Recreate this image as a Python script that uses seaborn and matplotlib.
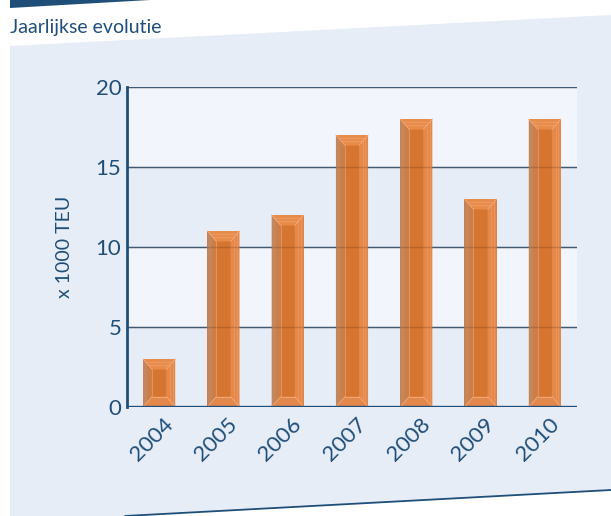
import numpy as np
import pandas as pd
import matplotlib
matplotlib.use("Agg")
import matplotlib.pyplot as plt
import matplotlib.transforms as mtransforms
from matplotlib.patches import Polygon
import seaborn as sns

years = ["2004", "2005", "2006", "2007", "2008", "2009", "2010"]
teu = [3, 11, 12, 17, 18, 13, 18]
yticks = [0, 5, 10, 15, 20]
title = "Jaarlijkse evolutie"
ylabel = "x 1000 TEU"

sns.set_theme(style="white")
plt.rcParams['font.family'] = ['Lato', 'DejaVu Sans']

DARK = "#1f4e79"
PANEL = "#e6edf7"
LIGHT = "#f2f5fb"
W, H = 611, 516
fig = plt.figure(figsize=(W / 100, H / 100), dpi=100)
fig.patch.set_facecolor("white")

def fx(x):
    return x / W
def fy(y):
    return 1 - y / H

# top dark band
fig.patches.append(Polygon([(fx(10), fy(0)), (fx(150), fy(0)), (fx(10), fy(8))],
                           closed=True, transform=fig.transFigure, facecolor=DARK,
                           edgecolor="none", zorder=-2))
# light blue panel
fig.patches.append(Polygon([(fx(10), fy(46)), (fx(611), fy(15)), (fx(611), fy(490)),
                            (fx(125), fy(516)), (fx(10), fy(516))], closed=True,
                           transform=fig.transFigure, facecolor=PANEL, edgecolor="none",
                           zorder=-2))
fig.lines.append(plt.Line2D([fx(125), fx(611)], [fy(516), fy(490)], transform=fig.transFigure,
                            color=DARK, lw=1.3, zorder=-1))
fig.text(fx(10), fy(33), title, color=DARK, fontsize=14, ha="left", va="baseline")

ax = fig.add_axes([fx(127), fy(407), fx(577) - fx(127), fy(87) - fy(407)])
ax.set_zorder(1)
ax.set_facecolor("none")

df = pd.DataFrame({"year": years, "teu": teu})
sns.barplot(data=df, x="year", y="teu", color="#d67530", width=0.5, saturation=1,
            edgecolor="none", ax=ax, zorder=3)
bars = list(ax.patches)

ax.set_ylim(0, 20)
ax.set_xlim(-0.5, len(years) - 0.5)

# alternating bands
for i in range(len(yticks) - 1):
    if i % 2 == 1:
        ax.axhspan(yticks[i], yticks[i + 1], color=LIGHT, lw=0, zorder=0)

# bevel decoration derived from bars
for p in bars:
    x0, y0 = p.get_x(), p.get_y()
    w, h = p.get_width(), p.get_height()
    if h <= 0:
        continue
    bw = w * 0.28
    bh = min(0.65, h * 0.22)
    x1 = x0 + w
    y1 = y0 + h
    # left side (darker tan)
    ax.add_patch(Polygon([(x0, y0), (x0 + bw, y0 + bh), (x0 + bw, y1 - bh), (x0, y1)],
                         facecolor="#c4875c", edgecolor="none", zorder=4))
    ax.add_patch(Polygon([(x0 + bw * 0.5, y0 + bh * 0.5), (x0 + bw, y0 + bh),
                          (x0 + bw, y1 - bh), (x0 + bw * 0.5, y1 - bh * 0.5)],
                         facecolor="#cd7d45", edgecolor="none", zorder=4))
    # right side (lighter)
    ax.add_patch(Polygon([(x1, y0), (x1 - bw, y0 + bh), (x1 - bw, y1 - bh), (x1, y1)],
                         facecolor="#e5894a", edgecolor="none", zorder=4))
    # top bevel
    ax.add_patch(Polygon([(x0, y1), (x1, y1), (x1 - bw, y1 - bh), (x0 + bw, y1 - bh)],
                         facecolor="#e88c4c", edgecolor="none", zorder=4))
    # bottom bevel
    ax.add_patch(Polygon([(x0, y0), (x1, y0), (x1 - bw, y0 + bh), (x0 + bw, y0 + bh)],
                         facecolor="#e3874a", edgecolor="none", zorder=4))
    # stripes on top bevel and right side
    for f in (0.3, 0.6):
        ax.plot([x0 + bw * f, x1 - bw * f], [y1 - bh * f, y1 - bh * f],
                color="#f0a06c", lw=0.5, zorder=5)
        ax.plot([x1 - bw * f, x1 - bw * f], [y0 + bh * f, y1 - bh * f],
                color="#ee9b64", lw=0.5, zorder=5)
    # bevel edges highlight
    for (xa, ya, xb, yb) in [(x0, y1, x0 + bw, y1 - bh), (x1, y1, x1 - bw, y1 - bh),
                             (x0, y0, x0 + bw, y0 + bh), (x1, y0, x1 - bw, y0 + bh),
                             (x0 + bw, y0 + bh, x1 - bw, y0 + bh)]:
        ax.plot([xa, xb], [ya, yb], color="#f2ad80", lw=0.6, zorder=5)
    ax.plot([x0 + bw, x0 + bw], [y0 + bh, y1 - bh], color="#e29a6a", lw=0.6, zorder=5)

ax.set_yticks(yticks)
for yv in yticks[1:]:
    ax.axhline(yv, color="#3a6790", lw=1.0, zorder=2)
    ax.axhline(yv, color="#5a3518", lw=1.0, alpha=0.25, zorder=6)
ax.axhline(0, color=DARK, lw=2.4, zorder=7)

for s in ["top", "right", "bottom"]:
    ax.spines[s].set_visible(False)
ax.spines["left"].set_color(DARK)
ax.spines["left"].set_linewidth(2.0)
ax.spines["left"].set_zorder(7)

ax.tick_params(axis="y", colors=DARK, labelsize=16, length=0, pad=4)
ax.tick_params(axis="x", colors="#7a4a28", labelcolor=DARK, labelsize=16, length=4,
               width=1.5, direction="in", pad=0)
offset = mtransforms.ScaledTranslation(11 / 100, -14 / 100, fig.dpi_scale_trans)
for lbl in ax.get_xticklabels():
    lbl.set_rotation(45)
    lbl.set_ha("right")
    lbl.set_va("center")
    lbl.set_rotation_mode("anchor")
    lbl.set_color(DARK)
    lbl.set_transform(lbl.get_transform() + offset)
for lbl in ax.get_yticklabels():
    lbl.set_color(DARK)

ax.set_xlabel("")
ax.set_ylabel(ylabel, color=DARK, fontsize=14, labelpad=16)

fig.savefig("out.png", dpi=100, facecolor="white")
